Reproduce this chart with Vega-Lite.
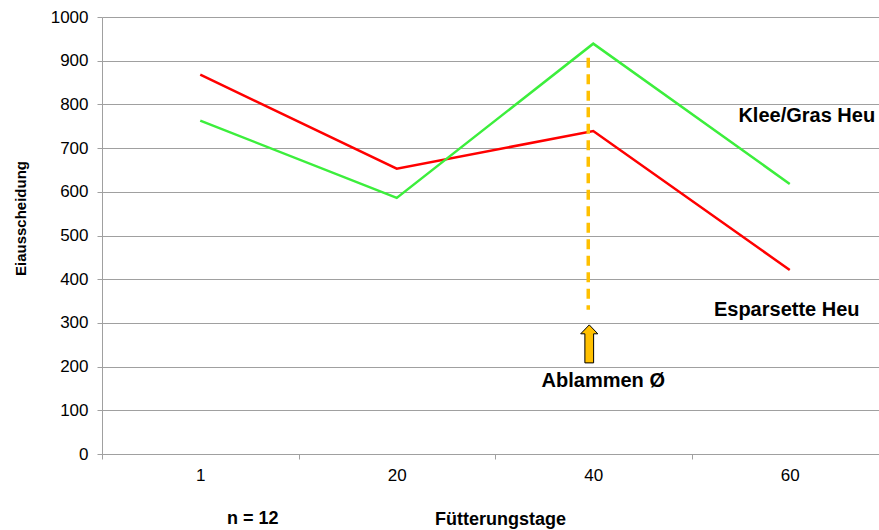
{
  "$schema": "https://vega.github.io/schema/vega-lite/v6.json",
  "width": 777,
  "height": 437,
  "autosize": {"type": "none"},
  "padding": {"left": 102, "top": 17, "right": 0, "bottom": 76},
  "background": "white",
  "config": {
    "font": "Liberation Sans",
    "view": {"stroke": null},
    "title": {"font": "Liberation Sans"}
  },
  "title": {
    "text": "n = 12",
    "orient": "bottom",
    "anchor": "start",
    "frame": "group",
    "fontSize": 18,
    "fontWeight": "bold",
    "color": "#000000",
    "baseline": "top",
    "offset": -18,
    "dx": 125
  },
  "datasets": {
    "series": [
      {"tag": "1", "series": "Esparsette Heu", "value": 868},
      {"tag": "20", "series": "Esparsette Heu", "value": 653},
      {"tag": "40", "series": "Esparsette Heu", "value": 739},
      {"tag": "60", "series": "Esparsette Heu", "value": 421},
      {"tag": "1", "series": "Klee/Gras Heu", "value": 763},
      {"tag": "20", "series": "Klee/Gras Heu", "value": 586},
      {"tag": "40", "series": "Klee/Gras Heu", "value": 939},
      {"tag": "60", "series": "Klee/Gras Heu", "value": 618}
    ],
    "marker": [
      {"tag": "40", "top": 907, "bottom": 330, "value": 252}
    ],
    "notes": [
      {"tag": "60", "value": 774, "label": "Klee/Gras Heu"},
      {"tag": "60", "value": 330, "label": "Esparsette Heu"},
      {"tag": "40", "value": 167, "label": "Ablammen Ø"}
    ]
  },
  "encoding": {
    "x": {
      "field": "tag",
      "type": "ordinal",
      "bandPosition": 0.5,
      "sort": ["1", "20", "40", "60"],
      "scale": {
        "type": "band",
        "domain": ["1", "20", "40", "60"],
        "range": [0, 786],
        "paddingInner": 0,
        "paddingOuter": 0
      },
      "axis": {
        "title": "Fütterungstage",
        "labelAngle": 0,
        "tickBand": "extent",
        "grid": false,
        "domainColor": "#A0A0A0",
        "tickColor": "#A0A0A0",
        "tickSize": 5,
        "labelFontSize": 17,
        "labelColor": "#000000",
        "labelPadding": 8,
        "titleFontSize": 18,
        "titleFontWeight": "bold",
        "titleColor": "#000000",
        "titleX": 398,
        "titleY": 70,
        "titleBaseline": "alphabetic",
        "titleAlign": "center"
      }
    }
  },
  "layer": [
    {
      "data": {"name": "series"},
      "mark": {"type": "line", "strokeWidth": 2.5},
      "encoding": {
        "y": {
          "field": "value",
          "type": "quantitative",
          "scale": {"domain": [0, 1000], "nice": false},
          "axis": {
            "title": "Eiausscheidung",
            "format": "d",
            "values": [0, 100, 200, 300, 400, 500, 600, 700, 800, 900, 1000],
            "grid": true,
            "gridColor": "#A0A0A0",
            "gridWidth": 1,
            "domainColor": "#A0A0A0",
            "tickColor": "#A0A0A0",
            "tickSize": 5,
            "labelFontSize": 17,
            "labelColor": "#000000",
            "labelPadding": 9,
            "titleFontSize": 15,
            "titleFontWeight": "bold",
            "titleColor": "#000000",
            "titleX": -81.5,
            "titleY": 201,
            "titleAngle": 270,
            "titleAlign": "center",
            "titleBaseline": "middle"
          }
        },
        "color": {
          "field": "series",
          "type": "nominal",
          "scale": {"domain": ["Esparsette Heu", "Klee/Gras Heu"], "range": ["#FF0000", "#3CEE3C"]},
          "legend": null
        }
      }
    },
    {
      "data": {"name": "marker"},
      "mark": {"type": "rule", "color": "#FFC000", "strokeWidth": 3.5, "strokeDash": [10, 6.5], "xOffset": -5},
      "encoding": {
        "y": {"field": "top", "type": "quantitative"},
        "y2": {"field": "bottom"}
      }
    },
    {
      "data": {"name": "marker"},
      "mark": {
        "type": "point",
        "shape": "M0,-1L0.45,-0.53L0.23,-0.53L0.23,1L-0.23,1L-0.23,-0.53L-0.45,-0.53Z",
        "size": 1444,
        "filled": true,
        "fill": "#FFC000",
        "stroke": "#000000",
        "strokeWidth": 1,
        "opacity": 1,
        "fillOpacity": 1,
        "xOffset": -4
      },
      "encoding": {
        "y": {"field": "value", "type": "quantitative"}
      }
    },
    {
      "data": {"name": "notes"},
      "transform": [{"filter": "datum.label === 'Klee/Gras Heu'"}],
      "mark": {"type": "text", "fontSize": 20, "fontWeight": "bold", "color": "#000000", "align": "center", "baseline": "middle", "dx": 17},
      "encoding": {
        "y": {"field": "value", "type": "quantitative"},
        "text": {"field": "label"}
      }
    },
    {
      "data": {"name": "notes"},
      "transform": [{"filter": "datum.label === 'Esparsette Heu'"}],
      "mark": {"type": "text", "fontSize": 20, "fontWeight": "bold", "color": "#000000", "align": "center", "baseline": "middle", "dx": -3},
      "encoding": {
        "y": {"field": "value", "type": "quantitative"},
        "text": {"field": "label"}
      }
    },
    {
      "data": {"name": "notes"},
      "transform": [{"filter": "datum.label === 'Ablammen Ø'"}],
      "mark": {"type": "text", "fontSize": 20, "fontWeight": "bold", "color": "#000000", "align": "center", "baseline": "middle", "dx": 10},
      "encoding": {
        "y": {"field": "value", "type": "quantitative"},
        "text": {"field": "label"}
      }
    }
  ]
}
